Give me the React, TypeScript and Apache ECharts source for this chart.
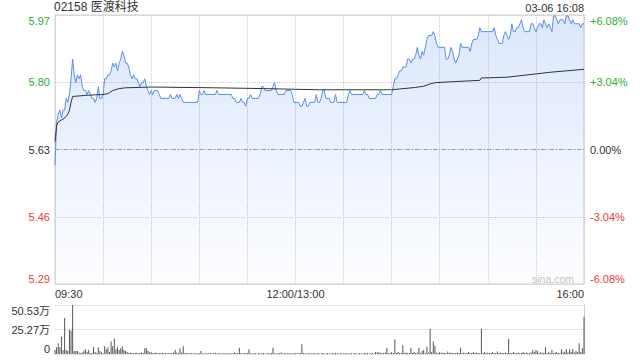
import React, { useEffect, useRef } from 'react';
import * as echarts from 'echarts';

const stockTitle = '02158 医渡科技';
const stampText = '03-06 16:08';
const watermark = 'sina.com';
const prevClose = 5.63;
const pctMax = 6.08;
const pctStep = 3.04;
const priceTickLabels = ['5.29', '5.46', '5.63', '5.80', '5.97'];
const pctTickLabels = ['-6.08%', '-3.04%', '0.00%', '+3.04%', '+6.08%'];
const timeTickMinutes = [0, 150, 330];
const timeTickLabels = ['09:30', '12:00/13:00', '16:00'];
const volMax = 50.53;
const volTickLabels = ['0', '25.27万', '50.53万'];

// minute index since 09:30 (lunch break removed) and price at that minute
const priceMin = [
  0, 1, 2, 3, 4, 5, 6, 7, 8, 9, 10, 11, 12, 13, 14, 15, 16, 17, 18, 19, 20, 21, 22, 23, 24, 25, 26, 27, 28, 29,
  30, 31, 32, 33, 34, 35, 36, 37, 38, 39, 40, 41, 42, 43, 44, 45, 46, 47, 48, 49, 50, 51, 52, 53, 54, 55, 56, 57, 58, 59,
  60, 61, 62, 64, 65, 66, 71, 72, 73, 75, 76, 77, 78, 79, 80, 89, 90, 91, 92, 93, 94, 100, 101, 102, 110, 111, 112, 113,
  115, 116, 117, 118, 119, 120, 121, 122, 123, 127, 128, 129, 130, 131, 135, 136, 137, 138, 139, 143, 144, 147, 148, 149,
  152, 153, 154, 155, 156, 157, 158, 159, 162, 163, 164, 165, 166, 167, 168, 169, 171, 172, 174, 175, 176, 182, 183, 184,
  185, 192, 193, 194, 195, 196, 200, 201, 202, 203, 204, 210, 211, 212, 213, 214, 215, 216, 217, 219, 220, 221, 222, 223,
  224, 225, 226, 227, 228, 229, 230, 231, 232, 233, 235, 236, 237, 238, 239, 243, 244, 245, 246, 247, 248, 249, 250, 251,
  252, 253, 254, 258, 259, 260, 261, 263, 264, 265, 266, 273, 274, 275, 276, 277, 279, 280, 281, 282, 283, 284, 285, 286,
  287, 288, 289, 290, 291, 292, 293, 296, 297, 298, 299, 300, 301, 302, 303, 304, 305, 306, 307, 308, 309, 310, 311, 312,
  313, 314, 315, 317, 318, 319, 320, 321, 322, 323, 324, 327, 328, 329, 330,
];
const priceVal = [
  5.59, 5.70, 5.72, 5.73, 5.71, 5.73, 5.73, 5.76, 5.75, 5.77, 5.81, 5.86, 5.82, 5.80, 5.82, 5.81, 5.82, 5.79, 5.78, 5.78, 5.77, 5.78, 5.77, 5.76, 5.76, 5.75, 5.76, 5.79, 5.76, 5.76,
  5.77, 5.81, 5.81, 5.82, 5.82, 5.83, 5.85, 5.84, 5.85, 5.83, 5.85, 5.86, 5.88, 5.87, 5.85, 5.85, 5.84, 5.82, 5.81, 5.82, 5.81, 5.81, 5.80, 5.79, 5.80, 5.80, 5.81, 5.79, 5.78, 5.77,
  5.78, 5.77, 5.78, 5.78, 5.77, 5.76, 5.76, 5.77, 5.76, 5.76, 5.77, 5.76, 5.77, 5.76, 5.75, 5.75, 5.78, 5.77, 5.77, 5.78, 5.77, 5.77, 5.78, 5.77, 5.77, 5.76, 5.76, 5.75,
  5.75, 5.76, 5.75, 5.75, 5.74, 5.76, 5.76, 5.77, 5.76, 5.76, 5.77, 5.79, 5.79, 5.78, 5.78, 5.79, 5.80, 5.78, 5.77, 5.77, 5.78, 5.78, 5.77, 5.75,
  5.75, 5.74, 5.74, 5.75, 5.76, 5.74, 5.74, 5.75, 5.75, 5.77, 5.75, 5.75, 5.76, 5.78, 5.78, 5.76, 5.76, 5.75, 5.75, 5.77, 5.75, 5.75, 5.77, 5.78,
  5.77, 5.77, 5.78, 5.77, 5.77, 5.76, 5.76, 5.77, 5.77, 5.78, 5.77, 5.77, 5.79, 5.81, 5.81, 5.82, 5.83, 5.83, 5.84, 5.84, 5.86, 5.86, 5.85, 5.86,
  5.86, 5.87, 5.89, 5.87, 5.86, 5.88, 5.87, 5.89, 5.91, 5.92, 5.92, 5.93, 5.92, 5.90, 5.89, 5.89, 5.86, 5.86, 5.87, 5.89, 5.88, 5.86, 5.85, 5.86,
  5.87, 5.90, 5.89, 5.89, 5.88, 5.90, 5.91, 5.91, 5.92, 5.94, 5.93, 5.93, 5.94, 5.92, 5.91, 5.90, 5.90, 5.92, 5.93, 5.92, 5.91, 5.92, 5.95, 5.93,
  5.93, 5.94, 5.94, 5.95, 5.96, 5.94, 5.93, 5.93, 5.95, 5.95, 5.94, 5.93, 5.94, 5.95, 5.95, 5.94, 5.96, 5.95, 5.94, 5.95, 5.94, 5.93, 5.97, 5.97,
  5.96, 5.95, 5.96, 5.96, 5.95, 5.97, 5.97, 5.96, 5.95, 5.96, 5.95, 5.95, 5.94, 5.95, 5.95,
];

// average price line
const avgMin = [0, 1, 2, 4, 6, 8, 9, 10, 11, 20, 30, 33, 36, 40, 44, 60, 100, 130, 165, 210, 215, 225, 230, 234, 237, 250, 265, 266, 282, 295, 310, 330];
const avgVal = [5.65, 5.69, 5.70, 5.705, 5.71, 5.72, 5.73, 5.75, 5.765, 5.768, 5.77, 5.772, 5.78, 5.785, 5.787, 5.789, 5.787, 5.785, 5.782, 5.782, 5.784, 5.788, 5.791, 5.797, 5.80, 5.803, 5.806, 5.812, 5.814, 5.82, 5.827, 5.834];

// volume per minute (万 shares), minute 0..330
const volume = [
  4, 7, 11, 7, 18, 4, 37, 4, 3, 25, 24, 50.5, 3, 3, 3, 1.5, 1, 1.5, 3, 5, 2, 4, 1, 1, 7, 2, 1, 7, 3, 1.5,
  0.8, 8, 5, 7, 2, 13, 8, 16, 5, 7, 4, 6, 8, 4, 3, 2, 1, 1.5, 1, 0.8, 1, 1.2, 0.8, 1, 1.5, 1, 6, 6, 3, 1.5,
  2, 1, 1, 1.5, 0.8, 1, 1, 1.2, 0.8, 1, 0.5, 1, 0.8, 1, 1.5, 4, 1.5, 1, 6, 1.5, 8, 1, 1, 0.8, 0.5, 1, 0.5, 0.8, 1, 0.5,
  1, 3, 0.8, 0.5, 1, 0.5, 1, 0.8, 0.5, 1, 1.2, 0.5, 0.8, 1, 0.5, 0.8, 1, 0.5, 1, 0.8, 0.5, 1, 1.5, 0.8, 1, 6.5, 1, 0.5, 1, 0.8,
  1, 5, 0.8, 0.5, 1, 0.8, 0.5, 1, 0.5, 0.8, 1, 0.5, 0.8, 1, 0.5, 1, 6.5, 0.8, 0.5, 1, 0.8, 1.5, 0.5, 1, 0.8, 0.5, 1, 0.8, 0.5, 1,
  0.8, 1, 0.5, 1, 10, 1, 0.8, 0.5, 1, 0.8, 0.5, 1, 0.8, 0.5, 1, 0.5, 0.8, 1, 0.5, 0.8, 1, 0.5, 0.8, 1, 0.5, 1, 0.8, 0.5, 1, 0.8,
  0.5, 1, 0.8, 0.5, 1, 0.8, 0.5, 1, 0.8, 0.5, 1, 0.8, 0.5, 1, 0.8, 1, 0.5, 0.8, 1, 0.5, 2, 1.5, 2, 1, 0.8, 1, 1.5, 6.5, 1, 1,
  2, 1, 15, 1, 2, 1, 1, 9, 1, 1.5, 1, 1, 6.5, 1, 2, 1, 1.5, 6.5, 1, 3, 4, 1, 7.5, 1.5, 26, 2, 13, 8.5, 1.5, 1,
  2, 1, 1.5, 1, 0.8, 2.5, 1, 1.5, 1, 0.8, 1, 1.5, 1, 6.5, 1, 1.5, 0.8, 1, 2, 1, 1, 2, 1, 1.5, 1, 0.8, 26, 1, 2, 1,
  1.5, 1, 1, 2, 1, 1, 2.5, 1, 1.5, 1, 1, 1.5, 1, 15.5, 1, 1, 2, 1, 1, 1.5, 1, 1, 2, 1, 1.5, 1, 1, 1.5, 4, 2,
  4, 3, 1, 2, 1, 1.5, 7, 1, 2, 1, 4, 1, 1.5, 2, 1, 1, 5, 1.5, 2.5, 5, 1.5, 5, 2, 5, 1.5, 3, 2, 11, 2, 6, 38.5,
];

const FONT = '"Liberation Sans", Arial, "Noto Sans CJK SC", sans-serif';
const GREEN = '#2fae2f';
const RED = '#ee3b3b';
const TXT = '#333';

const toPct = (p: number) => ((p - prevClose) / prevClose) * 100;

const priceStyles = ['rb', 'r', 'k', 'g', 'gt'];
const volStyles = ['kb', 'k', 'kt'];

const rich: any = {
  g: { color: GREEN, fontSize: 11, fontFamily: FONT },
  gt: { color: GREEN, fontSize: 11, fontFamily: FONT, padding: [11, 0, 0, 0] },
  k: { color: TXT, fontSize: 11, fontFamily: FONT },
  kt: { color: TXT, fontSize: 11, fontFamily: FONT, padding: [11, 0, 0, 0] },
  kb: { color: TXT, fontSize: 11, fontFamily: FONT, padding: [0, 0, 11, 0] },
  r: { color: RED, fontSize: 11, fontFamily: FONT },
  rb: { color: RED, fontSize: 11, fontFamily: FONT, padding: [0, 0, 11, 0] },
};

export default function App() {
  const ref = useRef<HTMLDivElement>(null);
  useEffect(() => {
    if (!ref.current) return;
    const chart = echarts.init(ref.current, undefined, { renderer: 'svg' });
    const pctIdx = (v: number) => Math.round((v + pctMax) / pctStep);
    const option: any = {
      animation: false,
      textStyle: { fontFamily: FONT },
      title: [
        { text: stockTitle, left: 54, top: 1, padding: 0, textStyle: { fontSize: 12, fontWeight: 'normal', color: TXT, fontFamily: FONT } },
        { text: stampText, right: 56, top: 2, padding: 0, textStyle: { fontSize: 11, fontWeight: 'normal', color: TXT, fontFamily: FONT } },
      ],
      graphic: [
        { type: 'text', left: 532, top: 273, silent: true, style: { text: watermark, fill: '#c4c4c4', font: '10.5px "Liberation Sans", Arial, sans-serif' } },
      ],
      grid: [
        { left: 55, right: 56, top: 15, height: 269, show: true, borderColor: '#ccc', borderWidth: 1, backgroundColor: 'transparent' },
        { left: 55, right: 56, top: 305, height: 49 },
      ],
      xAxis: [
        {
          gridIndex: 0, type: 'value', min: 0, max: 330, interval: 30,
          axisLine: { show: false }, axisTick: { show: false },
          splitLine: { show: true, lineStyle: { color: '#ccc', type: 'dotted' } },
          axisLabel: {
            color: TXT, fontSize: 11, fontFamily: FONT, margin: 4,
            showMinLabel: true, showMaxLabel: true,
            alignMinLabel: 'left', alignMaxLabel: 'right',
            formatter: (v: number) => {
              const i = timeTickMinutes.indexOf(Math.round(v));
              return i >= 0 ? timeTickLabels[i] : '';
            },
          },
        },
        { gridIndex: 1, type: 'value', min: 0, max: 330, show: false },
      ],
      yAxis: [
        {
          gridIndex: 0, type: 'value', min: -pctMax, max: pctMax, interval: pctStep, position: 'left',
          axisLine: { show: false }, axisTick: { show: false },
          splitLine: { show: true, lineStyle: { color: '#ccc', type: 'dotted' } },
          axisLabel: {
            margin: 5, fontSize: 11, fontFamily: FONT, rich,
            formatter: (v: number) => {
              const i = pctIdx(v);
              return `{${priceStyles[i]}|${priceTickLabels[i]}}`;
            },
          },
        },
        {
          gridIndex: 0, type: 'value', min: -pctMax, max: pctMax, interval: pctStep, position: 'right',
          axisLine: { show: false }, axisTick: { show: false }, splitLine: { show: false },
          axisLabel: {
            margin: 6, fontSize: 11, fontFamily: FONT, rich,
            formatter: (v: number) => {
              const i = pctIdx(v);
              return `{${priceStyles[i]}|${pctTickLabels[i]}}`;
            },
          },
        },
        {
          gridIndex: 1, type: 'value', min: 0, max: volMax, interval: volMax / 2, position: 'left',
          axisLine: { show: false }, axisTick: { show: false },
          splitLine: { show: true, lineStyle: { color: '#ccc', type: 'dotted' } },
          axisLabel: {
            margin: 5, fontSize: 11, fontFamily: FONT, rich,
            formatter: (v: number) => {
              const i = Math.round(v / (volMax / 2));
              return `{${volStyles[i]}|${volTickLabels[i]}}`;
            },
          },
        },
        {
          gridIndex: 1, type: 'value', min: 0, max: volMax, position: 'right',
          axisLine: { show: true, lineStyle: { color: '#ccc' } },
          axisTick: { show: false }, axisLabel: { show: false }, splitLine: { show: false },
        },
      ],
      series: [
        {
          type: 'line', xAxisIndex: 0, yAxisIndex: 0,
          data: priceMin.map((m, i) => [m, toPct(priceVal[i])]),
          symbol: 'none', showSymbol: false,
          lineStyle: { color: '#5a8cf0', width: 1 },
          areaStyle: {
            origin: 'start',
            color: new echarts.graphic.LinearGradient(0, 0, 0, 1, [
              { offset: 0, color: 'rgba(70,130,240,0.27)' },
              { offset: 1, color: 'rgba(70,130,240,0.02)' },
            ]),
          },
          markLine: {
            silent: true, symbol: ['none', 'none'], label: { show: false },
            lineStyle: { color: '#9a9a9a', type: [4, 2, 1, 2], width: 1 },
            data: [{ yAxis: 0 }],
          },
          z: 2,
        },
        {
          type: 'line', xAxisIndex: 0, yAxisIndex: 0,
          data: avgMin.map((m, i) => [m, toPct(avgVal[i])]),
          symbol: 'none', showSymbol: false,
          lineStyle: { color: '#333', width: 1 },
          z: 3,
        },
        {
          type: 'bar', xAxisIndex: 1, yAxisIndex: 2,
          data: volume.map((v, i) => [i, v]),
          barWidth: 1,
          itemStyle: { color: '#555' },
        },
      ],
    };
    chart.setOption(option);
    return () => chart.dispose();
  }, []);
  return <div ref={ref} style={{ position: 'fixed', left: 0, top: 0, width: 640, height: 360, background: '#fff' }} />;
}
